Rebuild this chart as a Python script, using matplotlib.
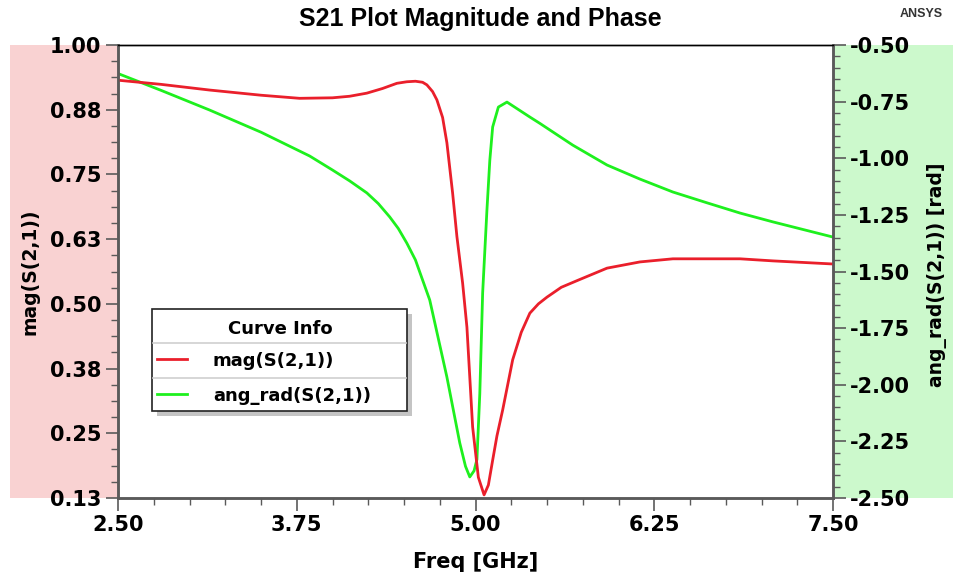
import matplotlib
matplotlib.use("Agg")
import matplotlib.pyplot as plt
from matplotlib.patches import Rectangle
from matplotlib.lines import Line2D
from matplotlib.ticker import MultipleLocator

# ---------------- data ----------------
freq_mag = [2.50, 2.80, 3.14, 3.50, 3.77, 4.00, 4.12, 4.24, 4.35, 4.45, 4.52, 4.58, 4.63, 4.66,
            4.70, 4.73, 4.77, 4.80, 4.84, 4.87, 4.91, 4.94, 4.98, 5.02, 5.06, 5.09,
            5.12, 5.15, 5.19, 5.26, 5.32, 5.38, 5.44, 5.50, 5.60, 5.72, 5.92, 6.15, 6.38,
            6.62, 6.85, 7.08, 7.50]
mag_s21 = [0.932, 0.924, 0.913, 0.903, 0.897, 0.898, 0.901, 0.907, 0.916, 0.926, 0.929, 0.930, 0.928, 0.923,
           0.910, 0.894, 0.860, 0.811, 0.714, 0.630, 0.540, 0.455, 0.262, 0.165, 0.131, 0.150,
           0.198, 0.245, 0.295, 0.392, 0.445, 0.482, 0.500, 0.513, 0.532, 0.546, 0.569, 0.581, 0.587,
           0.587, 0.587, 0.583, 0.577]

freq_ang = [2.50, 2.80, 3.14, 3.50, 3.84, 4.00, 4.12, 4.24, 4.32, 4.40, 4.46, 4.52, 4.58, 4.68, 4.80,
            4.89, 4.93, 4.96, 4.99, 5.01, 5.03, 5.05, 5.08, 5.10, 5.12, 5.16, 5.22,
            5.30, 5.38, 5.45, 5.68, 5.92, 6.15, 6.38, 6.62, 6.85, 7.08, 7.50]
ang_s21 = [-0.626, -0.700, -0.787, -0.885, -0.990, -1.052, -1.100, -1.153, -1.200, -1.259, -1.310, -1.375,
           -1.449, -1.626, -1.966, -2.257, -2.360, -2.407, -2.380, -2.330, -2.040, -1.595, -1.228, -1.010,
           -0.862, -0.774, -0.752, -0.785, -0.818, -0.846, -0.942, -1.030, -1.092, -1.149, -1.197, -1.242,
           -1.281, -1.348]

series_names = ["mag(S(2,1))", "ang_rad(S(2,1))"]
x_ticks = [2.50, 3.75, 5.00, 6.25, 7.50]
x_tick_labels = ["2.50", "3.75", "5.00", "6.25", "7.50"]
left_ticks = [0.125, 0.25, 0.375, 0.50, 0.625, 0.75, 0.875, 1.00]
left_tick_labels = ["0.13", "0.25", "0.38", "0.50", "0.63", "0.75", "0.88", "1.00"]
right_ticks = [-2.50, -2.25, -2.00, -1.75, -1.50, -1.25, -1.00, -0.75, -0.50]
right_tick_labels = ["-2.50", "-2.25", "-2.00", "-1.75", "-1.50", "-1.25", "-1.00", "-0.75", "-0.50"]

# ---------------- figure ----------------
W, H = 954, 577
fig = plt.figure(figsize=(W / 100, H / 100), dpi=100)
fig.patch.set_facecolor("white")

def fx(px):
    return px / W

def fy(py):
    return 1 - py / H

L, R, T, B = 118, 833, 45, 498
FONT = "DejaVu Sans"
TFONT = ["Liberation Sans", "DejaVu Sans"]
RED = "#ea1f2b"
GREEN = "#1ef01e"
AXC = "#5a5a5a"

# side bands (behind the axes)
fig.patches.append(Rectangle((fx(10), fy(B)), fx(L - 10), (B - T) / H,
                             transform=fig.transFigure, facecolor="#f9d2d2", edgecolor="none", zorder=-5))
fig.patches.append(Rectangle((fx(R), fy(B)), fx(W - R), (B - T) / H,
                             transform=fig.transFigure, facecolor="#ccf9cc", edgecolor="none", zorder=-5))

ax = fig.add_axes([fx(L), fy(B), fx(R - L), (B - T) / H])
ax2 = ax.twinx()

ax2.plot(freq_ang, ang_s21, color=GREEN, lw=2.0, solid_joinstyle="round")
ax.plot(freq_mag, mag_s21, color=RED, lw=2.0, solid_joinstyle="round")
ax.set_zorder(2)
ax2.set_zorder(1)
ax.patch.set_visible(False)
ax2.patch.set_visible(True)
ax2.patch.set_facecolor("white")

ax.set_xlim(2.5, 7.5)
ax.set_ylim(0.125, 1.0)
ax2.set_ylim(-2.5, -0.5)

ax.set_xticks(x_ticks)
ax.set_xticklabels(x_tick_labels)
ax.xaxis.set_minor_locator(MultipleLocator(0.25))
ax.set_yticks(left_ticks)
ax.set_yticklabels(left_tick_labels)
ax.yaxis.set_minor_locator(MultipleLocator(0.03125))
ax2.set_yticks(right_ticks)
ax2.set_yticklabels(right_tick_labels)
ax2.yaxis.set_minor_locator(MultipleLocator(0.05))

for a in (ax, ax2):
    for s in a.spines.values():
        s.set_color(AXC)
        s.set_linewidth(1.8)
    a.spines["top"].set_color("black")
    a.spines["top"].set_linewidth(1.0)
    a.tick_params(which="major", length=9, width=1.2, color=AXC, direction="out")
    a.tick_params(which="minor", length=5, width=1.0, color=AXC, direction="out")

ax.tick_params(axis="both", which="major", labelsize=15, pad=3)
ax2.tick_params(axis="y", which="major", labelsize=15, pad=3)
for lab in ax.get_xticklabels() + ax.get_yticklabels() + ax2.get_yticklabels():
    lab.set_fontweight("bold")
    lab.set_fontfamily(FONT)

# titles and labels
fig.text(fx(480), fy(19), "S21 Plot Magnitude and Phase", ha="center", va="center",
         fontsize=18, fontweight="bold", family=TFONT)
fig.text(fx(921), fy(14), "ANSYS", ha="center", va="center",
         fontsize=9, fontweight="bold", family=TFONT, color="#333333")
fig.text(fx(476), fy(562), "Freq [GHz]", ha="center", va="center",
         fontsize=15, fontweight="bold", family=FONT)
fig.text(fx(30), fy(272), series_names[0], ha="center", va="center", rotation=90,
         fontsize=13.5, fontweight="bold", family=FONT)
fig.text(fx(937), fy(275), series_names[1] + " [rad]", ha="center", va="center", rotation=90,
         fontsize=13.5, fontweight="bold", family=FONT)

# custom legend "Curve Info"
bx0, bx1, by0, by1 = 152, 407, 309, 411
fig.patches.append(Rectangle((fx(bx0 + 5), fy(by1 + 5)), fx(bx1 - bx0), (by1 - by0) / H,
                             transform=fig.transFigure, facecolor="#c4c4c4", edgecolor="none", zorder=5))
fig.patches.append(Rectangle((fx(bx0), fy(by1)), fx(bx1 - bx0), (by1 - by0) / H,
                             transform=fig.transFigure, facecolor="white", edgecolor="#222222",
                             linewidth=1.2, zorder=6))
for sy in (343, 378):
    fig.lines.append(Line2D([fx(bx0 + 1), fx(bx1 - 1)], [fy(sy), fy(sy)], transform=fig.transFigure,
                            color="#d0d0d0", lw=1.2, zorder=7))
fig.text(fx(280), fy(329), "Curve Info", ha="center", va="center", fontsize=13,
         fontweight="bold", family=FONT, zorder=8)
for name, col, ly in zip(series_names, [RED, GREEN], [361, 396]):
    fig.lines.append(Line2D([fx(157), fx(187)], [fy(ly - 2), fy(ly - 2)], transform=fig.transFigure,
                            color=col, lw=2.0, zorder=8))
    fig.text(fx(213), fy(ly), name, ha="left", va="center", fontsize=13,
             fontweight="bold", family=FONT, zorder=8)

fig.savefig("out.png", dpi=100)
